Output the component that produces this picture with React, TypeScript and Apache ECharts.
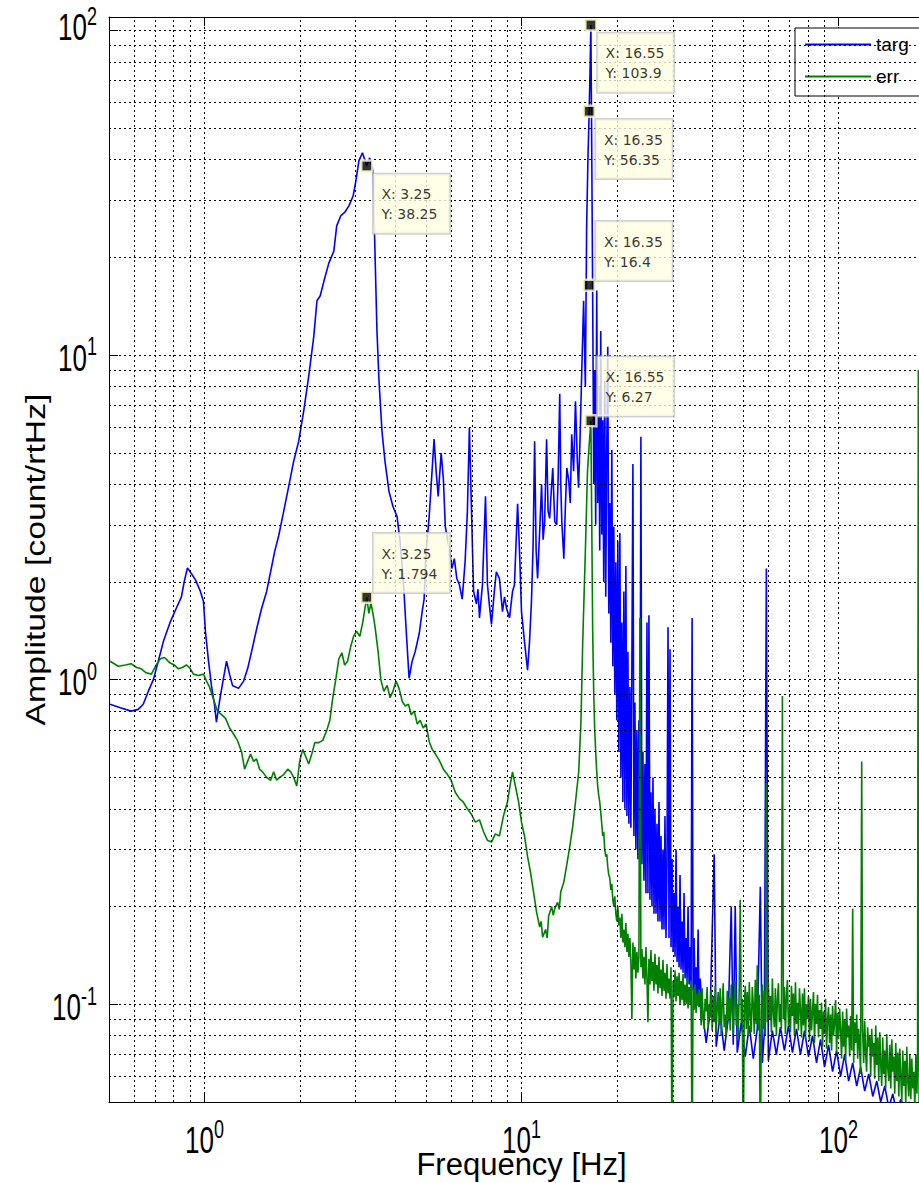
import React, { useEffect, useRef } from 'react';
import * as echarts from 'echarts';

const seriesNames = ['targ', 'err'];
const xTickExponents = [0, 1, 2];
const yTickExponents = [-1, 0, 1, 2];
const xTitle = 'Frequency [Hz]';
const yTitle = 'Amplitude [count/rtHz]';
const minorX = [0.6, 0.7, 0.8, 0.9, 2, 3, 4, 5, 6, 7, 8, 9, 20, 30, 40, 50, 60, 70, 80, 90];
const minorY = [0.06, 0.07, 0.08, 0.09, 0.2, 0.3, 0.4, 0.5, 0.6, 0.7, 0.8, 0.9, 2, 3, 4, 5, 6, 7, 8, 9, 20, 30, 40, 50, 60, 70, 80, 90];

// targ spectrum [Hz, count/rtHz]
const targ: [number, number][] = [
  [0.504, 0.84], [0.543, 0.82], [0.587, 0.8], [0.618, 0.81], [0.641, 0.84], [0.665, 0.92], [0.69, 1.0], [0.715, 1.14],
  [0.742, 1.31], [0.781, 1.51], [0.815, 1.66], [0.846, 1.8], [0.864, 2.01], [0.884, 2.21], [0.91, 2.12], [0.937, 2.03],
  [0.971, 1.87], [0.993, 1.74], [1.007, 1.41], [1.03, 1.14], [1.052, 0.96], [1.075, 0.84], [1.091, 0.74], [1.115, 0.855],
  [1.14, 0.97], [1.174, 1.14], [1.2, 1.04], [1.226, 0.96], [1.281, 0.94], [1.329, 0.99], [1.368, 1.08], [1.408, 1.22],
  [1.46, 1.43], [1.515, 1.66], [1.571, 1.87], [1.617, 2.15], [1.665, 2.48], [1.714, 2.77], [1.778, 3.3], [1.844, 3.94],
  [1.912, 4.71], [1.983, 5.43], [2.056, 6.72], [2.133, 8.62], [2.212, 11.4], [2.264, 14.7], [2.317, 15.2], [2.382, 16.9],
  [2.468, 19.2], [2.559, 20.9], [2.613, 25.0], [2.694, 26.9], [2.768, 27.5], [2.855, 28.8], [2.944, 30.9], [3.004, 34.4],
  [3.071, 39.7], [3.15, 42.0], [3.25, 38.25], [3.32, 40.5], [3.4, 37.0], [3.45, 20.9], [3.5, 11.9], [3.553, 8.32],
  [3.63, 5.83], [3.71, 4.71], [3.82, 3.8], [3.93, 3.42], [4.05, 3.18], [4.14, 2.67], [4.24, 2.01], [4.33, 1.41],
  [4.42, 1.01], [4.52, 1.14], [4.62, 1.22], [4.76, 1.39], [4.86, 1.62], [4.93, 1.77], [5.0, 2.48], [5.115, 3.18],
  [5.23, 4.49], [5.3, 5.51], [5.38, 4.39], [5.46, 3.67], [5.58, 4.99], [5.67, 4.15], [5.75, 2.96], [5.92, 2.53],
  [6.03, 2.2], [6.14, 2.36], [6.25, 2.05], [6.37, 1.96], [6.5, 1.77], [6.64, 2.31], [6.75, 3.3], [6.85, 5.96],
  [6.95, 3.42], [7.06, 1.87], [7.21, 1.71], [7.29, 1.9], [7.37, 1.55], [7.53, 1.96], [7.7, 3.67], [7.81, 1.96],
  [7.92, 1.7], [8.04, 1.48], [8.21, 1.87], [8.33, 2.15], [8.52, 2.05], [8.71, 1.62], [8.84, 1.8], [8.97, 1.66],
  [9.165, 1.55], [9.37, 1.87], [9.5, 1.96], [9.72, 3.48], [9.86, 2.48], [10.0, 1.62], [10.22, 1.31], [10.45, 1.07],
  [10.6, 1.31], [10.75, 1.74], [10.88, 2.6], [11.0, 5.43], [11.12, 2.5], [11.24, 2.05], [11.41, 2.86], [11.57, 4.0],
  [11.7, 2.7], [11.83, 3.07], [12.0, 5.5], [12.13, 3.3], [12.27, 3.14], [12.41, 3.8], [12.55, 4.49], [12.73, 3.07],
  [12.91, 3.0], [13.05, 4.2], [13.2, 7.6], [13.3, 4.0], [13.4, 3.07], [13.6, 2.36], [13.75, 3.4], [13.9, 4.49],
  [14.1, 4.09], [14.25, 3.5], [14.4, 5.7], [14.6, 4.39], [14.8, 7.21], [15.0, 4.71], [15.13, 3.9], [15.26, 5.06],
  [15.5, 9.1], [15.7, 14.7], [15.9, 8.0], [16.05, 25.0], [16.2, 40.0], [16.35, 56.35], [16.45, 75.0], [16.55, 103.9],
  [16.65, 45.0], [16.77, 14.7], [16.9, 4.0], [17.02, 9.0], [17.14, 3.0], [17.27, 15.8], [17.39, 3.5], [17.52, 8.0],
  [17.65, 2.5], [17.78, 11.85], [17.91, 2.8], [18.04, 6.3], [18.17, 2.0], [18.3, 8.3], [18.44, 1.8], [18.57, 5.0],
  [18.71, 10.6], [18.85, 1.6], [18.99, 3.5], [19.13, 1.3], [19.27, 5.1], [19.41, 1.1], [19.55, 2.96], [19.69, 0.9],
  [19.84, 2.3], [19.98, 0.75], [20.13, 2.67], [20.28, 0.6], [20.43, 2.83], [20.58, 0.5], [20.73, 1.5], [20.88, 0.42],
  [21.03, 1.87], [21.19, 0.4], [21.34, 2.24], [21.5, 0.38], [21.66, 1.22], [21.81, 0.36], [21.97, 0.95], [22.13, 0.35],
  [22.29, 1.1], [22.46, 4.62], [22.62, 0.33], [22.79, 0.85], [22.95, 0.3], [23.12, 0.7], [23.29, 0.28], [23.46, 0.75],
  [23.63, 0.3], [23.8, 5.6], [23.98, 0.27], [24.15, 0.6], [24.33, 0.24], [24.51, 0.55], [24.69, 0.22], [24.87, 1.5],
  [25.05, 0.22], [25.23, 1.58], [25.42, 0.21], [25.6, 0.45], [25.79, 0.2], [25.98, 0.5], [26.17, 0.19], [26.36, 0.4],
  [26.56, 0.19], [26.75, 0.36], [26.94, 0.18], [27.14, 0.42], [27.34, 0.18], [27.54, 0.33], [27.74, 0.17], [27.94, 0.3],
  [28.15, 0.17], [28.35, 0.38], [28.56, 0.16], [28.77, 0.28], [28.98, 1.45], [29.19, 0.16], [29.41, 1.24], [29.62, 0.15],
  [29.84, 0.28], [30.06, 0.145], [30.28, 0.22], [30.5, 0.14], [30.72, 0.3], [30.95, 0.135], [31.17, 0.2], [31.4, 0.13],
  [31.62, 0.25], [31.85, 0.128], [32.09, 0.18], [32.32, 0.125], [32.56, 0.22], [32.8, 0.12], [33.04, 0.16], [33.28, 0.118],
  [33.52, 0.2], [33.77, 0.115], [34.02, 0.15], [34.27, 0.112], [34.52, 1.55], [34.77, 0.11], [35.02, 0.16], [35.28, 0.105],
  [35.53, 0.13], [35.8, 0.1], [36.06, 0.17], [36.32, 0.098], [36.59, 0.12], [37.13, 0.098], [38.23, 0.076],
  [39.36, 0.095], [40.52, 0.29], [41.12, 0.074], [42.33, 0.093], [43.58, 0.072], [44.87, 0.09], [45.87, 0.2], [46.54, 0.075],
  [47.22, 0.2], [47.91, 0.071], [49.33, 0.088], [50.79, 0.069], [52.29, 0.086], [53.83, 0.068], [55.42, 0.084], [56.66, 0.23],
  [57.49, 0.066], [58.33, 0.082], [59.19, 2.2], [60.06, 0.067], [61.83, 0.083], [63.66, 0.07], [65.55, 0.085], [67.49, 0.072],
  [69.49, 0.086], [71.54, 0.071], [73.66, 0.084], [75.83, 0.07], [78.08, 0.083], [80.39, 0.069], [82.76, 0.08], [85.21, 0.066],
  [87.73, 0.078], [90.33, 0.064], [93.0, 0.075], [95.75, 0.062], [98.59, 0.072], [101.5, 0.06], [104.5, 0.07], [107.6, 0.058],
  [110.8, 0.066], [114.1, 0.056], [117.4, 0.064], [120.9, 0.054], [124.5, 0.061], [128.2, 0.052], [132.0, 0.058], [135.8, 0.05],
  [139.9, 0.056], [144.0, 0.048], [148.3, 0.053], [152.7, 0.046], [157.1, 0.051], [161.8, 0.045], [166.6, 0.05], [171.5, 0.044],
  [176.6, 0.048], [181.8, 0.043], [187.0, 0.047], [193.0, 0.042], [200.0, 0.046]
];

// err spectrum [Hz, count/rtHz]
const err: [number, number][] = [
  [0.504, 1.14], [0.535, 1.1], [0.563, 1.11], [0.587, 1.12], [0.611, 1.09], [0.632, 1.08], [0.655, 1.05], [0.68, 1.04],
  [0.705, 1.11], [0.726, 1.16], [0.748, 1.17], [0.775, 1.13], [0.803, 1.11], [0.827, 1.08], [0.852, 1.09], [0.877, 1.11],
  [0.897, 1.09], [0.923, 1.04], [0.957, 1.03], [0.993, 1.04], [1.015, 0.99], [1.037, 0.95], [1.068, 0.87], [1.099, 0.8],
  [1.132, 0.78], [1.166, 0.76], [1.2, 0.71], [1.235, 0.68], [1.271, 0.65], [1.309, 0.6], [1.339, 0.53], [1.368, 0.56],
  [1.398, 0.59], [1.429, 0.56], [1.46, 0.57], [1.492, 0.53], [1.525, 0.52], [1.571, 0.5], [1.617, 0.49], [1.653, 0.52],
  [1.689, 0.49], [1.726, 0.5], [1.778, 0.51], [1.831, 0.53], [1.871, 0.52], [1.912, 0.5], [1.955, 0.47], [1.997, 0.56],
  [2.041, 0.61], [2.086, 0.58], [2.133, 0.55], [2.18, 0.59], [2.228, 0.64], [2.294, 0.64], [2.361, 0.65], [2.433, 0.7],
  [2.486, 0.75], [2.54, 0.88], [2.595, 1.0], [2.654, 1.16], [2.713, 1.21], [2.768, 1.11], [2.828, 1.14], [2.89, 1.26],
  [2.955, 1.36], [3.018, 1.41], [3.091, 1.36], [3.16, 1.51], [3.25, 1.794], [3.3, 1.6], [3.35, 1.72], [3.4, 1.6],
  [3.45, 1.46], [3.53, 1.22], [3.6, 1.0], [3.68, 0.92], [3.77, 0.96], [3.85, 0.88], [3.93, 0.92], [4.02, 0.99],
  [4.11, 0.94], [4.21, 0.855], [4.3, 0.83], [4.4, 0.84], [4.49, 0.78], [4.59, 0.8], [4.69, 0.73], [4.79, 0.75],
  [4.9, 0.71], [5.0, 0.73], [5.115, 0.644], [5.23, 0.61], [5.35, 0.59], [5.5, 0.565], [5.67, 0.53], [5.84, 0.51],
  [6.0, 0.49], [6.18, 0.45], [6.37, 0.43], [6.55, 0.42], [6.75, 0.4], [6.95, 0.385], [7.15, 0.364], [7.37, 0.37],
  [7.59, 0.34], [7.81, 0.32], [8.04, 0.316], [8.27, 0.335], [8.52, 0.33], [8.77, 0.38], [9.03, 0.42], [9.23, 0.48],
  [9.37, 0.52], [9.58, 0.467], [9.79, 0.42], [10.0, 0.364], [10.22, 0.33], [10.45, 0.285], [10.67, 0.256], [10.91, 0.222],
  [11.16, 0.192], [11.41, 0.173], [11.53, 0.18], [11.66, 0.161], [11.91, 0.17], [12.05, 0.16], [12.18, 0.187], [12.45, 0.2],
  [12.6, 0.188], [12.73, 0.197], [13.0, 0.206], [13.15, 0.196], [13.3, 0.222], [13.6, 0.238], [13.9, 0.27], [14.19, 0.305],
  [14.5, 0.352], [14.8, 0.42], [15.15, 0.52], [15.4, 0.742], [15.6, 1.31], [15.9, 2.48], [16.15, 4.39], [16.35, 5.3],
  [16.55, 6.27], [16.65, 3.2], [16.77, 1.4], [16.9, 0.9], [17.02, 0.7], [17.14, 0.6], [17.27, 0.52], [17.39, 0.47],
  [17.52, 0.44], [17.65, 0.42], [17.78, 0.39], [17.91, 0.36], [18.04, 0.33], [18.17, 0.34], [18.3, 0.3], [18.44, 0.285],
  [18.57, 0.29], [18.71, 0.265], [18.85, 0.25], [18.99, 0.245], [19.13, 0.225], [19.27, 0.235], [19.41, 0.21], [19.55, 0.2],
  [19.69, 0.215], [19.84, 0.19], [19.98, 0.18], [20.13, 0.2], [20.28, 0.175], [20.43, 0.185], [20.58, 0.16], [20.73, 0.19],
  [20.88, 0.155], [21.03, 0.17], [21.19, 0.15], [21.34, 0.178], [21.5, 0.145], [21.66, 0.165], [21.81, 0.14], [21.97, 0.16],
  [22.13, 0.135], [22.29, 0.09], [22.46, 0.155], [22.62, 0.128], [22.79, 0.15], [22.95, 0.12], [23.12, 0.145], [23.29, 0.125],
  [23.46, 0.14], [23.63, 1.55], [23.8, 0.13], [23.98, 0.148], [24.15, 0.12], [24.33, 0.14], [24.51, 0.115], [24.69, 0.15],
  [24.87, 0.12], [25.05, 0.088], [25.23, 0.138], [25.42, 0.115], [25.6, 0.147], [25.79, 0.118], [25.98, 0.135], [26.17, 0.11],
  [26.36, 0.143], [26.56, 0.115], [26.75, 0.132], [26.94, 0.108], [27.14, 0.14], [27.34, 0.112], [27.54, 0.128], [27.74, 0.106],
  [27.94, 0.137], [28.15, 0.11], [28.35, 0.125], [28.56, 0.104], [28.77, 0.133], [28.98, 0.108], [29.19, 0.12], [29.41, 0.104],
  [29.62, 0.13], [29.84, 0.03], [30.06, 0.118], [30.28, 0.105], [30.5, 0.127], [30.72, 0.102], [30.95, 0.122], [31.17, 0.106],
  [31.4, 0.125], [31.62, 0.1], [31.85, 0.118], [32.09, 0.103], [32.32, 0.124], [32.56, 0.099], [32.8, 0.115], [33.04, 0.1],
  [33.28, 0.12], [33.52, 0.097], [33.77, 0.113], [34.02, 0.1], [34.27, 0.118], [34.52, 0.03], [34.77, 0.112], [35.02, 0.096],
  [35.28, 0.115], [35.53, 0.094], [35.8, 0.108], [36.06, 0.099], [36.32, 0.111],
  [36.59, 0.108], [36.86, 0.086], [37.13, 0.112], [37.4, 0.09], [37.67, 0.084], [37.95, 0.104], [38.23, 0.095], [38.5, 0.113], [38.79, 0.085], [39.07, 0.1],
  [39.36, 0.091], [39.65, 0.111], [39.94, 0.083], [40.23, 0.106], [40.52, 0.088], [40.82, 0.114], [41.12, 0.082], [41.42, 0.097], [41.72, 0.109], [42.03, 0.087],
  [42.33, 0.112], [42.64, 0.08], [42.95, 0.1], [43.27, 0.116], [43.58, 0.085], [43.9, 0.093], [44.22, 0.079], [44.54, 0.11], [44.87, 0.09], [45.2, 0.105],
  [45.53, 0.083], [45.86, 0.115], [46.2, 0.096], [46.54, 0.081], [46.88, 0.108], [47.22, 0.118], [47.56, 0.086], [47.91, 0.1], [48.26, 0.079], [48.61, 0.112],
  [48.97, 0.21], [49.33, 0.088], [49.69, 0.104], [50.05, 0.03], [50.42, 0.099], [50.79, 0.114], [51.16, 0.084], [51.53, 0.109], [51.91, 0.08], [52.29, 0.117],
  [52.67, 0.092], [53.06, 0.082], [53.44, 0.113], [53.83, 0.1], [54.23, 0.081], [54.62, 0.119], [55.02, 0.087], [55.42, 0.132], [55.83, 0.083], [56.24, 0.107],
  [56.66, 0.03], [57.07, 0.095], [57.49, 0.115], [57.91, 0.084], [58.33, 0.11], [58.76, 0.08], [59.19, 0.48], [59.62, 0.088], [60.06, 0.117], [60.5, 0.09],
  [60.94, 0.106], [61.39, 0.082], [61.83, 0.12], [62.29, 0.094], [62.74, 0.085], [63.2, 0.112], [63.66, 0.08], [64.13, 0.103], [64.6, 0.116], [65.07, 0.088],
  [65.55, 0.1], [66.03, 0.084], [66.51, 0.89], [67.0, 0.09], [67.49, 0.113], [67.98, 0.081], [68.48, 0.107], [68.98, 0.119], [69.48, 0.086], [69.99, 0.098],
  [70.51, 0.082], [71.03, 0.114], [71.55, 0.092], [72.07, 0.108], [72.6, 0.08], [73.13, 0.117], [73.66, 0.087], [74.2, 0.101], [74.74, 0.083], [75.29, 0.112],
  [75.83, 0.096], [76.38, 0.079], [76.94, 0.108], [77.5, 0.086], [78.07, 0.112], [78.64, 0.078], [79.22, 0.1], [79.8, 0.09], [80.38, 0.106], [80.97, 0.077],
  [81.56, 0.104], [82.16, 0.083], [82.76, 0.095], [83.36, 0.109], [83.97, 0.076], [84.58, 0.1], [85.2, 0.087], [85.83, 0.107], [86.45, 0.079], [87.09, 0.096],
  [87.73, 0.084], [88.37, 0.101], [89.02, 0.074], [89.67, 0.095], [90.32, 0.081], [90.98, 0.104], [91.65, 0.073], [92.32, 0.09], [92.99, 0.098], [93.67, 0.076],
  [94.37, 0.093], [95.06, 0.072], [95.76, 0.099], [96.45, 0.08], [97.16, 0.088], [97.87, 0.103], [98.58, 0.071], [99.31, 0.094], [100.0, 0.078], [100.8, 0.097],
  [101.5, 0.083], [102.2, 0.068], [103.0, 0.095], [103.7, 0.074], [104.5, 0.09], [105.3, 0.067], [106.0, 0.097], [106.8, 0.079], [107.6, 0.086], [108.4, 0.069],
  [109.2, 0.092], [110.0, 0.072], [110.8, 0.197], [111.6, 0.066], [112.4, 0.088], [113.2, 0.076], [114.1, 0.093], [114.9, 0.068], [115.7, 0.084], [116.6, 0.073],
  [117.4, 0.061], [118.3, 0.56], [119.1, 0.083], [120.0, 0.066], [120.9, 0.089], [121.8, 0.07], [122.6, 0.062], [123.5, 0.085], [124.4, 0.074], [125.4, 0.08],
  [126.3, 0.06], [127.2, 0.084], [128.2, 0.069], [129.1, 0.076], [130.0, 0.059], [131.0, 0.086], [131.9, 0.065], [132.9, 0.079], [133.9, 0.058], [134.9, 0.082],
  [135.8, 0.066], [136.8, 0.056], [137.8, 0.079], [138.8, 0.061], [139.8, 0.072], [140.8, 0.055], [141.9, 0.081], [142.9, 0.064], [144.0, 0.058], [145.0, 0.075],
  [146.1, 0.055], [147.2, 0.078], [148.2, 0.062], [149.3, 0.069], [150.4, 0.053], [151.5, 0.076], [152.6, 0.058], [153.8, 0.071], [154.9, 0.052], [156.0, 0.073],
  [157.1, 0.06], [158.3, 0.05], [159.4, 0.072], [160.6, 0.056], [161.8, 0.067], [162.9, 0.049], [164.1, 0.074], [165.3, 0.058], [166.5, 0.052], [167.8, 0.07],
  [169.0, 0.051], [170.2, 0.068], [171.5, 0.055], [172.7, 0.062], [174.0, 0.048], [175.3, 0.07], [176.6, 0.053], [177.5, 0.065], [178.5, 9.0], [179.5, 0.05],
  [180.5, 0.066], [182.0, 0.051], [183.5, 0.063], [185.0, 0.049], [187.0, 0.061], [189.0, 0.048], [191.5, 0.059], [194.0, 0.047], [197.0, 0.058], [200.0, 0.048]
];

// data tips
const tipSeries = ['targ', 'targ', 'targ', 'targ', 'err', 'err'];
const tipX = [3.25, 16.55, 16.35, 16.35, 16.55, 3.25];
const tipY = [38.25, 103.9, 56.35, 16.4, 6.27, 1.794];
const tipBelow = [true, true, true, false, false, false];

const FONT = 'Liberation Sans, Arial, sans-serif';
const X_MIN = 0.5;
const X_MAX = 200;
const Y_MIN = 0.05;
const Y_MAX = 110;

const tickRich = {
  b: { fontSize: 26, fontFamily: FONT, fill: '#000', lineHeight: 30, verticalAlign: 'bottom' },
  s: { fontSize: 18, fontFamily: FONT, fill: '#000', lineHeight: 20, verticalAlign: 'top' },
};

export default function App() {
  const ref = useRef<HTMLDivElement>(null);
  useEffect(() => {
    if (!ref.current) return;
    const chart = echarts.init(ref.current, null, { renderer: 'svg' });
    const dotted = { color: '#000', width: 1, type: [2, 3] as any };
    const axisCommon = {
      type: 'log', logBase: 10,
      axisLine: { show: true, lineStyle: { color: '#000', width: 1 } },
      axisTick: { show: true, inside: true, length: 9, lineStyle: { color: '#000' } },
      axisLabel: { show: false },
    };
    const option: any = {
      animation: false,
      backgroundColor: '#fff',
      grid: { left: 109, top: 17, width: 825, height: 1085, containLabel: false },
      legend: {
        data: seriesNames,
        orient: 'vertical',
        left: 795,
        top: 28,
        icon: 'rect',
        itemWidth: 66,
        itemHeight: 2,
        itemGap: 13,
        padding: [7, 40, 10, 10],
        backgroundColor: '#fff',
        borderColor: '#000',
        borderWidth: 1,
        textStyle: { fontSize: 19, fontFamily: FONT, color: '#000' },
      },
      xAxis: [
        { ...axisCommon, min: X_MIN, max: X_MAX, position: 'bottom', splitLine: { show: true, lineStyle: dotted } },
        { ...axisCommon, min: X_MIN, max: X_MAX, position: 'top', splitLine: { show: false } },
      ],
      yAxis: { ...axisCommon, min: Y_MIN, max: Y_MAX, splitLine: { show: true, lineStyle: dotted } },
      series: [
        {
          name: 'minor-grid', type: 'line', data: [], z: 1, silent: true,
          markLine: {
            silent: true, symbol: ['none', 'none'], label: { show: false },
            lineStyle: dotted, emphasis: { disabled: true },
            data: [
              ...minorX.map((v) => ({ xAxis: v })),
              ...minorY.map((v) => ({ yAxis: v })),
            ],
          },
        },
        {
          name: 'targ', type: 'line', data: targ, showSymbol: false, symbol: 'none', z: 3,
          lineStyle: { color: '#0000ff', width: 1.6 }, itemStyle: { color: '#0000ff' },
        },
        {
          name: 'err', type: 'line', data: err, showSymbol: false, symbol: 'none', z: 4,
          lineStyle: { color: '#008000', width: 1.6 }, itemStyle: { color: '#008000' },
        },
        {
          name: 'datatips', type: 'scatter', z: 10, symbol: 'rect', symbolSize: 11,
          itemStyle: { color: '#000', borderColor: '#ffffc8', borderWidth: 2.5 },
          data: tipX.map((x, i) => ({
            name: `X: ${x}\nY: ${tipY[i]}`,
            value: [x, tipY[i]],
            series: tipSeries[i],
            label: { position: tipBelow[i] ? [13.5, 15] : [13.5, -57] },
          })),
          label: {
            show: true, formatter: '{b}', align: 'left', verticalAlign: 'top',
            backgroundColor: '#ffffe1', borderColor: '#c4c4c4', borderWidth: 1.5,
            padding: [10, 6, 9, 8], lineHeight: 20, width: 62,
            fontSize: 14, fontFamily: 'DejaVu Sans, sans-serif', color: '#000',
          },
        },
      ],
    };
    chart.setOption(option);

    // axis texts placed through the axes' own scales
    const px = (v: number) => chart.convertToPixel({ xAxisIndex: 0 }, v) as number;
    const py = (v: number) => chart.convertToPixel({ yAxisIndex: 0 }, v) as number;
    const left = px(X_MIN);
    const right = px(X_MAX);
    const top = py(Y_MAX);
    const bottom = py(Y_MIN);
    const graphic: any[] = [];
    xTickExponents.forEach((e) => {
      graphic.push({
        type: 'text', silent: true, z: 20, x: px(Math.pow(10, e)), y: bottom + 57, scaleY: 1.4,
        style: { text: `{b|10}{s|${e}}`, rich: tickRich, align: 'center', verticalAlign: 'bottom' },
      });
    });
    yTickExponents.forEach((e) => {
      // the top label is pulled up against the upper edge of the box, as in the reference
      const yy = e === yTickExponents[yTickExponents.length - 1] ? Math.max(25, py(Math.pow(10, e)) - 20) : py(Math.pow(10, e));
      graphic.push({
        type: 'text', silent: true, z: 20, x: left - 12, y: yy, scaleY: 1.4,
        style: { text: `{b|10}{s|${e}}`, rich: tickRich, align: 'right', verticalAlign: 'middle' },
      });
    });
    graphic.push({
      type: 'text', silent: true, z: 20, x: (left + right) / 2, y: bottom + 47,
      style: { text: xTitle, fontSize: 31, fontFamily: FONT, fill: '#000', align: 'center', verticalAlign: 'top' },
    });
    graphic.push({
      type: 'text', silent: true, z: 20, x: left - 74, y: (top + bottom) / 2, rotation: Math.PI / 2, scaleX: 1.25,
      style: { text: yTitle, fontSize: 27, fontFamily: FONT, fill: '#000', align: 'center', verticalAlign: 'middle' },
    });
    chart.setOption({ graphic });
    return () => chart.dispose();
  }, []);
  return (
    <div style={{ position: 'fixed', left: 0, top: 0, width: 919, height: 1183, overflow: 'hidden', background: '#fff' }}>
      <div ref={ref} style={{ width: 1100, height: 1183 }} />
    </div>
  );
}
